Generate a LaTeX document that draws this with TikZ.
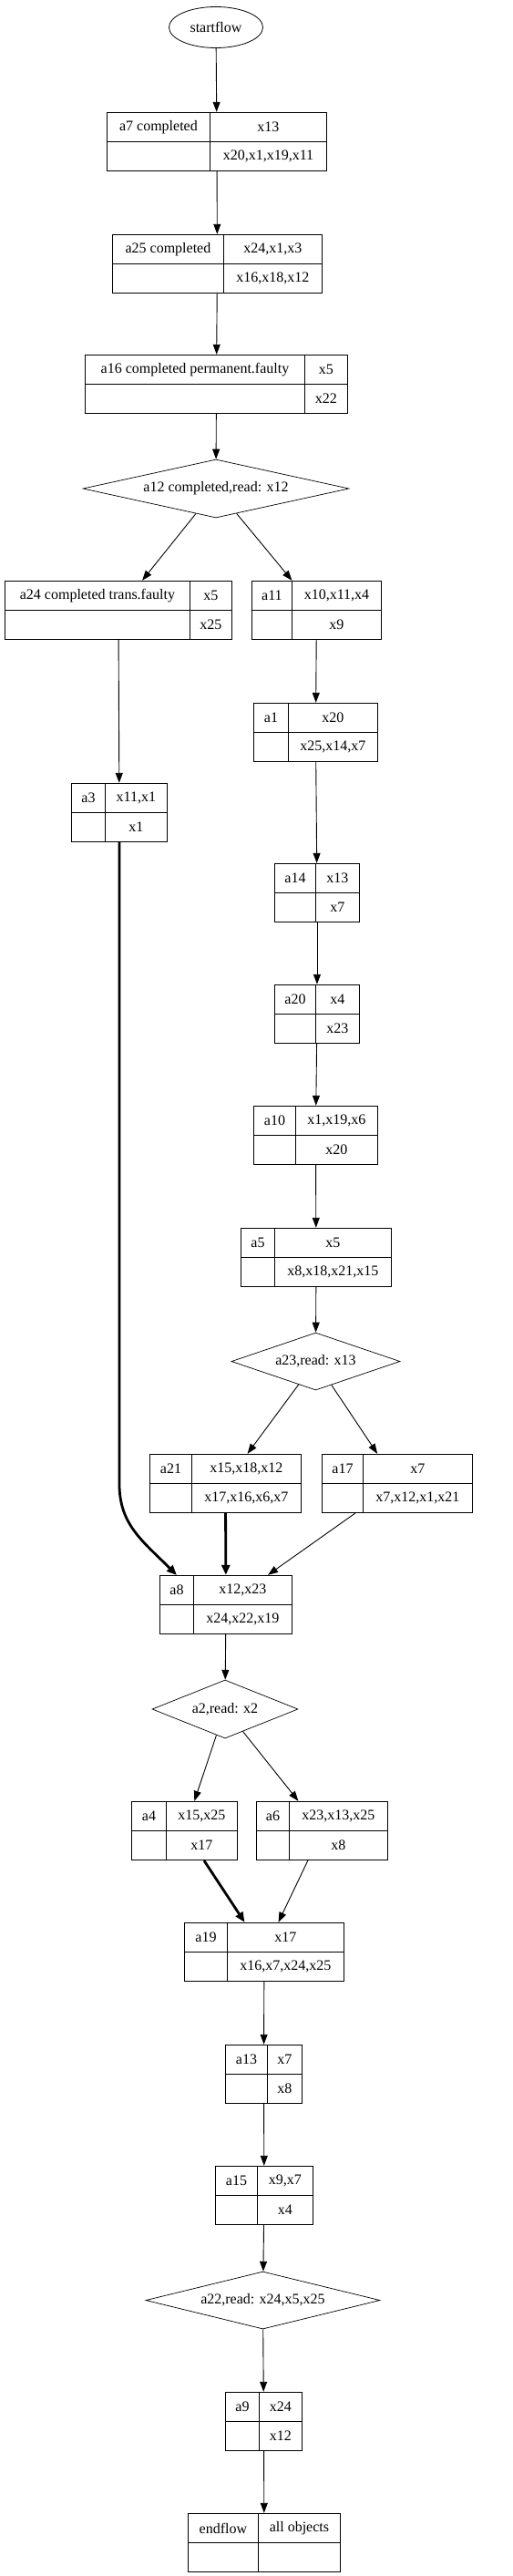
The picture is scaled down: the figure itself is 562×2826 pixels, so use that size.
\documentclass[tikz,border=0pt]{standalone}
\usepackage{fontspec}
\setmainfont{Liberation Serif}
\usetikzlibrary{arrows.meta,shapes.geometric,fit}
\tikzset{
  reccell/.style={
    rectangle, draw=black, line width=0.9pt,
    minimum height=32, inner sep=0pt,
    font=\fontsize{16}{19}\selectfont
  },
  terminal/.style={
    ellipse, draw=black, line width=0.8pt,
    minimum width=103, minimum height=45, inner sep=0pt,
    font=\fontsize{16}{19}\selectfont
  },
  decision/.style={
    diamond, draw=black, line width=0.7pt,
    shape aspect=3.5, inner sep=0pt,
    font=\fontsize{16}{19}\selectfont
  },
  flow/.style={
    draw=black, line width=0.9pt,
    -{Triangle[length=11pt,width=8pt]}
  },
  heavyflow/.style={
    flow, line width=2.8pt,
    -{Triangle[length=11pt,width=9pt]}
  }
}
% record box: #1 name, #2 left, #3 divider, #4 right, #5 top,
%             #6 activity, #7 read set, #8 written set
\newcommand{\recnode}[8]{%
  \node[reccell, minimum width={#3-#2}, anchor=north west] (#1-l) at (#2,#5) {#6};
  \node[reccell, minimum width={#4-#3}, anchor=north west] (#1-i) at (#3,#5) {#7};
  \node[reccell, minimum width={#3-#2}, anchor=north west] (#1-e) at (#2,#5+32) {};
  \node[reccell, minimum width={#4-#3}, anchor=north west] (#1-o) at (#3,#5+32) {#8};
  \node[fit=(#1-l)(#1-o), inner sep=0pt] (#1) {};
}
\begin{document}
\begin{tikzpicture}[x=1pt,y=-1pt]
  \useasboundingbox (0,0) rectangle (562,2826);
  %
  % ==================================================================
  % Main trunk: start, a7, a25, a16, branch a12
  % ==================================================================
  \node[terminal] (start) at (237,30) {startflow};
  \recnode{a7}{117}{230}{358}{123}{a7 completed}{x13}{x20,x1,x19,x11}
  \recnode{a25}{123}{245}{353}{257}{a25 completed}{x24,x1,x3}{x16,x18,x12}
  \recnode{a16}{93}{334}{381}{389}{a16 completed permanent.faulty}{x5}{x22}
  \node[decision, minimum width=292, minimum height=64] (a12) at (237,536)
    {a12 completed,read: x12};
  %
  % ==================================================================
  % Left branch (a24, a3) and right branch (a11 ... a5, branch a23)
  % ==================================================================
  \recnode{a24}{5}{208}{254}{637}{a24 completed trans.faulty}{x5}{x25}
  \recnode{a3}{78}{115}{183}{859}{a3}{x11,x1}{x1}
  \recnode{a11}{276}{320}{418}{637}{a11}{x10,x11,x4}{x9}
  \recnode{a1}{278}{316}{414}{771}{a1}{x20}{x25,x14,x7}
  \recnode{a14}{301}{346}{394}{947}{a14}{x13}{x7}
  \recnode{a20}{301}{346}{394}{1080}{a20}{x4}{x23}
  \recnode{a10}{278}{324}{414}{1213}{a10}{x1,x19,x6}{x20}
  \recnode{a5}{264}{301}{429}{1347}{a5}{x5}{x8,x18,x21,x15}
  \node[decision, minimum width=185, minimum height=63] (a23) at (346.5,1493.5)
    {a23,read: x13};
  \recnode{a21}{164}{210}{330}{1595}{a21}{x15,x18,x12}{x17,x16,x6,x7}
  \recnode{a17}{353}{398}{518}{1595}{a17}{x7}{x7,x12,x1,x21}
  %
  % ==================================================================
  % Join a8, branch a2, join a19, tail to endflow
  % ==================================================================
  \recnode{a8}{175}{212}{320}{1728}{a8}{x12,x23}{x24,x22,x19}
  \node[decision, minimum width=160, minimum height=64] (a2) at (247,1875)
    {a2,read: x2};
  \recnode{a4}{144}{182}{260}{1976}{a4}{x15,x25}{x17}
  \recnode{a6}{281}{317}{425}{1976}{a6}{x23,x13,x25}{x8}
  \recnode{a19}{202}{249}{377}{2109}{a19}{x17}{x16,x7,x24,x25}
  \recnode{a13}{247}{293}{331}{2243}{a13}{x7}{x8}
  \recnode{a15}{236}{282}{343}{2376}{a15}{x9,x7}{x4}
  \node[decision, minimum width=257, minimum height=63] (a22) at (288.5,2523.5)
    {a22,read: x24,x5,x25};
  \recnode{a9}{247}{284}{331}{2624}{a9}{x24}{x12}
  \recnode{end}{206}{283}{373}{2757}{endflow}{all objects}{}
  %
  % edges
  \draw[flow] (start) -- (a7);
  \draw[flow] (a7) -- (a25);
  \draw[flow] (a25) -- (a16);
  \draw[flow] (a16) -- (a12);
  \draw[flow] (a12) -- (a24);
  \draw[flow] (a12) -- (a11);
  \draw[flow] (a24) -- (a3);
  \draw[flow] (a11) -- (a1);
  \draw[flow] (a1) -- (a14);
  \draw[flow] (a14) -- (a20);
  \draw[flow] (a20) -- (a10);
  \draw[flow] (a10) -- (a5);
  \draw[flow] (a5) -- (a23);
  \draw[flow] (a23) -- (a21);
  \draw[flow] (a23) -- (a17);
  \draw[heavyflow] (a3.south) -- (a3.south |- a21)
    .. controls +(0,45) and +(-38,-38) .. (a8-l.north);
  \draw[heavyflow] (a21) -- (a8);
  \draw[flow] (a17) -- (a8);
  \draw[flow] (a8) -- (a2);
  \draw[flow] (a2) -- (a4);
  \draw[flow] (a2) -- (a6);
  \draw[heavyflow] (a4) -- (a19);
  \draw[flow] (a6) -- (a19);
  \draw[flow] (a19) -- (a13);
  \draw[flow] (a13) -- (a15);
  \draw[flow] (a15) -- (a22);
  \draw[flow] (a22) -- (a9);
  \draw[flow] (a9) -- (end);
\end{tikzpicture}
\end{document}
